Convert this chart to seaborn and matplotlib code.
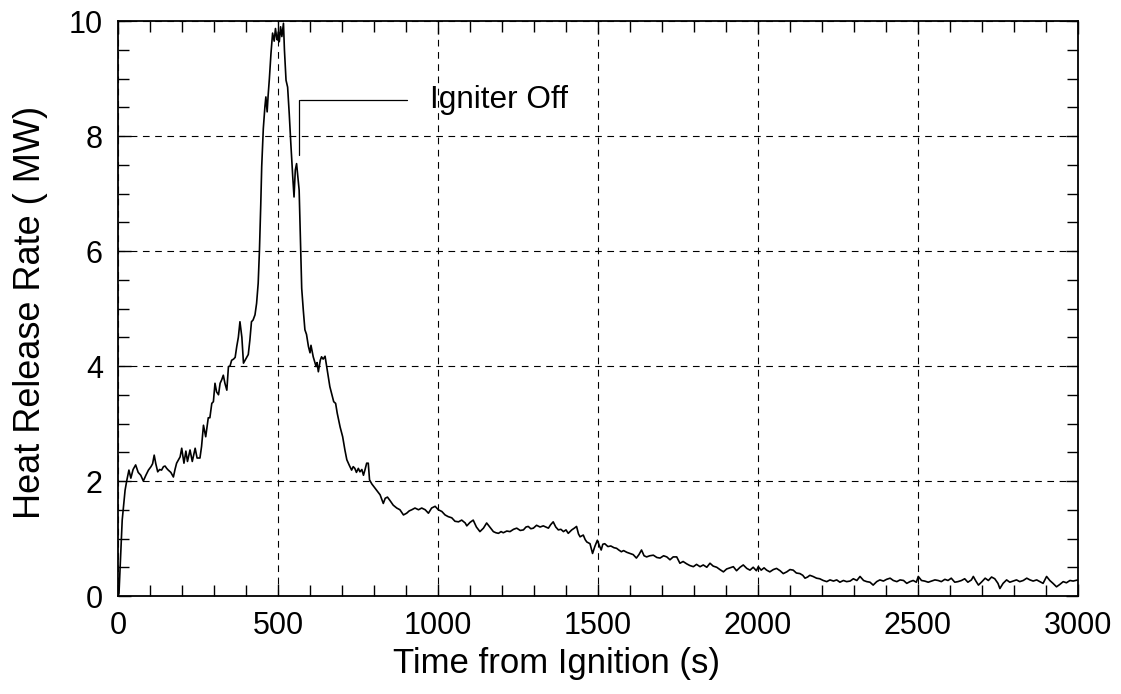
import pandas as pd
import matplotlib
matplotlib.use("Agg")
import matplotlib.pyplot as plt
import seaborn as sns
from matplotlib.ticker import MultipleLocator

# Values (time in s, HRR in MW)
time_s = [
    0, 3, 8, 13, 18, 22, 27, 34, 40, 47, 55, 63, 71, 79, 87, 95, 103, 108, 113, 118,
    124, 130, 136, 142, 147, 152, 157, 165, 173, 178, 183, 188, 194, 199, 206, 212, 217, 225, 232, 241,
    247, 256, 261, 267, 274, 282, 287, 293, 298, 303, 308, 314, 319, 324, 329, 334, 340, 345, 350, 355,
    361, 366, 371, 376, 381, 387, 392, 397, 402, 407, 412, 417, 422, 428, 433, 438, 442, 446, 449, 454,
    459, 462, 466, 469, 473, 478, 483, 488, 492, 496, 498, 501, 504, 508, 512, 517, 520, 525, 530, 535,
    540, 546, 550, 554, 558, 562, 566, 571, 574, 579, 584, 589, 595, 600, 603, 610, 619, 622, 626, 632,
    636, 641, 647, 652, 657, 662, 670, 674, 680, 685, 694, 702, 709, 715, 723, 730, 735, 740, 745, 751,
    756, 762, 767, 772, 777, 782, 786, 793, 800, 808, 819, 829, 835, 842, 850, 860, 871, 881, 892, 902,
    910, 918, 928, 939, 949, 960, 970, 980, 991, 1001, 1012, 1022, 1032, 1043, 1053, 1064, 1074, 1085, 1090, 1100,
    1110, 1120, 1131, 1142, 1152, 1162, 1173, 1181, 1189, 1197, 1204, 1215, 1225, 1236, 1246, 1257, 1267, 1275, 1282, 1290,
    1298, 1308, 1319, 1329, 1337, 1345, 1352, 1360, 1368, 1376, 1384, 1392, 1400, 1407, 1418, 1426, 1433, 1439, 1444, 1454,
    1460, 1465, 1475, 1483, 1490, 1498, 1504, 1510, 1515, 1521, 1531, 1540, 1550, 1558, 1565, 1573, 1580, 1590, 1600, 1610,
    1620, 1628, 1636, 1644, 1652, 1662, 1673, 1684, 1694, 1705, 1715, 1725, 1735, 1746, 1756, 1766, 1777, 1787, 1798, 1808,
    1819, 1829, 1840, 1850, 1860, 1871, 1881, 1892, 1902, 1913, 1923, 1933, 1944, 1954, 1965, 1975, 1985, 1995, 2001, 2010,
    2019, 2027, 2037, 2048, 2058, 2069, 2079, 2090, 2100, 2110, 2120, 2131, 2140, 2147, 2155, 2162, 2172, 2183, 2193, 2204,
    2215, 2225, 2236, 2246, 2256, 2267, 2277, 2288, 2298, 2309, 2319, 2330, 2340, 2350, 2360, 2371, 2381, 2392, 2402, 2413,
    2423, 2434, 2444, 2455, 2465, 2475, 2485, 2495, 2501, 2511, 2521, 2532, 2542, 2553, 2563, 2573, 2584, 2594, 2604, 2615,
    2625, 2636, 2646, 2656, 2667, 2673, 2681, 2689, 2700, 2710, 2720, 2730, 2740, 2750, 2756, 2766, 2777, 2787, 2797, 2808,
    2818, 2829, 2840, 2850, 2860, 2871, 2881, 2891, 2902, 2912, 2922, 2933, 2943, 2954, 2964, 2975, 2985, 3000,
]
hrr_mw = [
    0.0, 0.05, 0.7, 1.32, 1.6, 1.84, 2.0, 2.19, 2.05, 2.2, 2.28, 2.15, 2.1, 2.0, 2.1, 2.19, 2.25, 2.3, 2.45, 2.3,
    2.16, 2.2, 2.19, 2.25, 2.26, 2.22, 2.19, 2.15, 2.07, 2.2, 2.31, 2.36, 2.42, 2.57, 2.31, 2.52, 2.34, 2.54, 2.34, 2.57,
    2.4, 2.4, 2.6, 2.97, 2.77, 3.1, 3.1, 3.35, 3.38, 3.7, 3.55, 3.5, 3.7, 3.76, 3.84, 3.7, 3.58, 3.99, 4.0, 4.1,
    4.12, 4.15, 4.34, 4.5, 4.77, 4.5, 4.05, 4.1, 4.15, 4.2, 4.45, 4.77, 4.8, 4.89, 5.09, 5.44, 6.02, 6.8, 7.47, 8.13,
    8.51, 8.68, 8.42, 8.7, 9.0, 9.44, 9.79, 9.65, 9.87, 9.7, 9.67, 9.81, 9.64, 9.9, 9.73, 9.96, 9.5, 8.97, 8.85, 8.39,
    7.87, 7.29, 6.94, 7.41, 7.52, 7.29, 7.06, 6.0, 5.35, 4.97, 4.63, 4.55, 4.34, 4.23, 4.36, 4.16, 3.99, 4.06, 3.9, 4.1,
    4.16, 4.12, 4.17, 3.99, 3.81, 3.64, 3.47, 3.38, 3.35, 3.18, 2.94, 2.77, 2.54, 2.37, 2.27, 2.19, 2.25, 2.22, 2.15, 2.22,
    2.16, 2.2, 2.1, 2.2, 2.31, 2.31, 2.02, 1.95, 1.9, 1.84, 1.76, 1.61, 1.7, 1.72, 1.66, 1.58, 1.53, 1.5, 1.41, 1.44,
    1.48, 1.5, 1.53, 1.5, 1.53, 1.5, 1.44, 1.53, 1.56, 1.5, 1.47, 1.41, 1.38, 1.36, 1.3, 1.29, 1.32, 1.27, 1.22, 1.28,
    1.32, 1.2, 1.12, 1.18, 1.27, 1.2, 1.12, 1.1, 1.09, 1.12, 1.1, 1.13, 1.12, 1.16, 1.18, 1.14, 1.15, 1.2, 1.21, 1.17,
    1.18, 1.23, 1.2, 1.22, 1.2, 1.18, 1.24, 1.29, 1.2, 1.15, 1.16, 1.12, 1.15, 1.09, 1.15, 1.18, 1.21, 1.08, 1.03, 1.06,
    0.98, 0.94, 0.91, 0.74, 0.86, 0.97, 0.88, 0.8, 0.9, 0.91, 0.86, 0.87, 0.84, 0.83, 0.8, 0.77, 0.79, 0.76, 0.74, 0.72,
    0.66, 0.72, 0.8, 0.7, 0.68, 0.7, 0.71, 0.67, 0.66, 0.7, 0.68, 0.63, 0.68, 0.68, 0.57, 0.6, 0.56, 0.53, 0.51, 0.55,
    0.51, 0.54, 0.5, 0.57, 0.52, 0.5, 0.46, 0.42, 0.47, 0.49, 0.51, 0.44, 0.5, 0.54, 0.48, 0.45, 0.5, 0.44, 0.51, 0.45,
    0.49, 0.45, 0.42, 0.46, 0.48, 0.44, 0.39, 0.42, 0.46, 0.45, 0.4, 0.39, 0.36, 0.31, 0.33, 0.36, 0.34, 0.31, 0.3, 0.27,
    0.25, 0.28, 0.26, 0.28, 0.24, 0.27, 0.25, 0.26, 0.3, 0.27, 0.34, 0.27, 0.25, 0.24, 0.19, 0.25, 0.28, 0.26, 0.29, 0.31,
    0.27, 0.25, 0.28, 0.27, 0.22, 0.25, 0.27, 0.24, 0.34, 0.27, 0.26, 0.24, 0.26, 0.28, 0.27, 0.25, 0.29, 0.27, 0.31, 0.24,
    0.25, 0.27, 0.3, 0.24, 0.28, 0.34, 0.26, 0.19, 0.25, 0.31, 0.27, 0.33, 0.3, 0.22, 0.13, 0.22, 0.28, 0.24, 0.26, 0.28,
    0.25, 0.27, 0.31, 0.28, 0.26, 0.28, 0.25, 0.22, 0.34, 0.27, 0.22, 0.16, 0.2, 0.25, 0.23, 0.27, 0.26, 0.28,
]

# annotation anchor
igniter_off_t = 566
annot_text = "Igniter Off"

df = pd.DataFrame({"t": time_s, "hrr": hrr_mw})

sns.set_style("ticks")
plt.rcParams["font.family"] = ["Liberation Sans", "DejaVu Sans"]
plt.rcParams["text.color"] = "black"
plt.rcParams["axes.labelcolor"] = "black"

fig = plt.figure(figsize=(11.21, 6.94), dpi=100)
ax = fig.add_axes([0.1053, 0.1412, 0.8563, 0.8285])

sns.lineplot(data=df, x="t", y="hrr", ax=ax, color="black", linewidth=1.2)

ax.set_xlim(0, 3000)
ax.set_ylim(0, 10)
ax.xaxis.set_major_locator(MultipleLocator(500))
ax.xaxis.set_minor_locator(MultipleLocator(100))
ax.yaxis.set_major_locator(MultipleLocator(2))
ax.yaxis.set_minor_locator(MultipleLocator(0.5))

ax.tick_params(which="both", direction="in", top=True, right=True,
               width=1.0, color="black", labelcolor="black")
ax.tick_params(which="major", length=9, labelsize=22, pad=11)
ax.tick_params(which="minor", length=8)

ax.grid(True, which="major", color="black", linestyle=(0, (6, 5)), linewidth=0.8)
for s in ax.spines.values():
    s.set_linewidth(1.3)
    s.set_color("black")

ax.set_xlabel("Time from Ignition (s)", fontsize=25, color="black")
ax.set_ylabel("Heat Release Rate ( MW)", fontsize=26, color="black")
ax.xaxis.set_label_coords(0.457, -0.088)
ax.yaxis.set_label_coords(-0.073, 0.494)

# igniter off marker
ax.plot([igniter_off_t, igniter_off_t], [7.67, 8.63], color="black", linewidth=0.9)
ax.plot([igniter_off_t + 3, 902], [8.63, 8.63], color="black", linewidth=0.9)
ax.text(975, 8.63, annot_text, fontsize=22.7, va="center", ha="left", color="black")

fig.savefig("out.png", dpi=100)
